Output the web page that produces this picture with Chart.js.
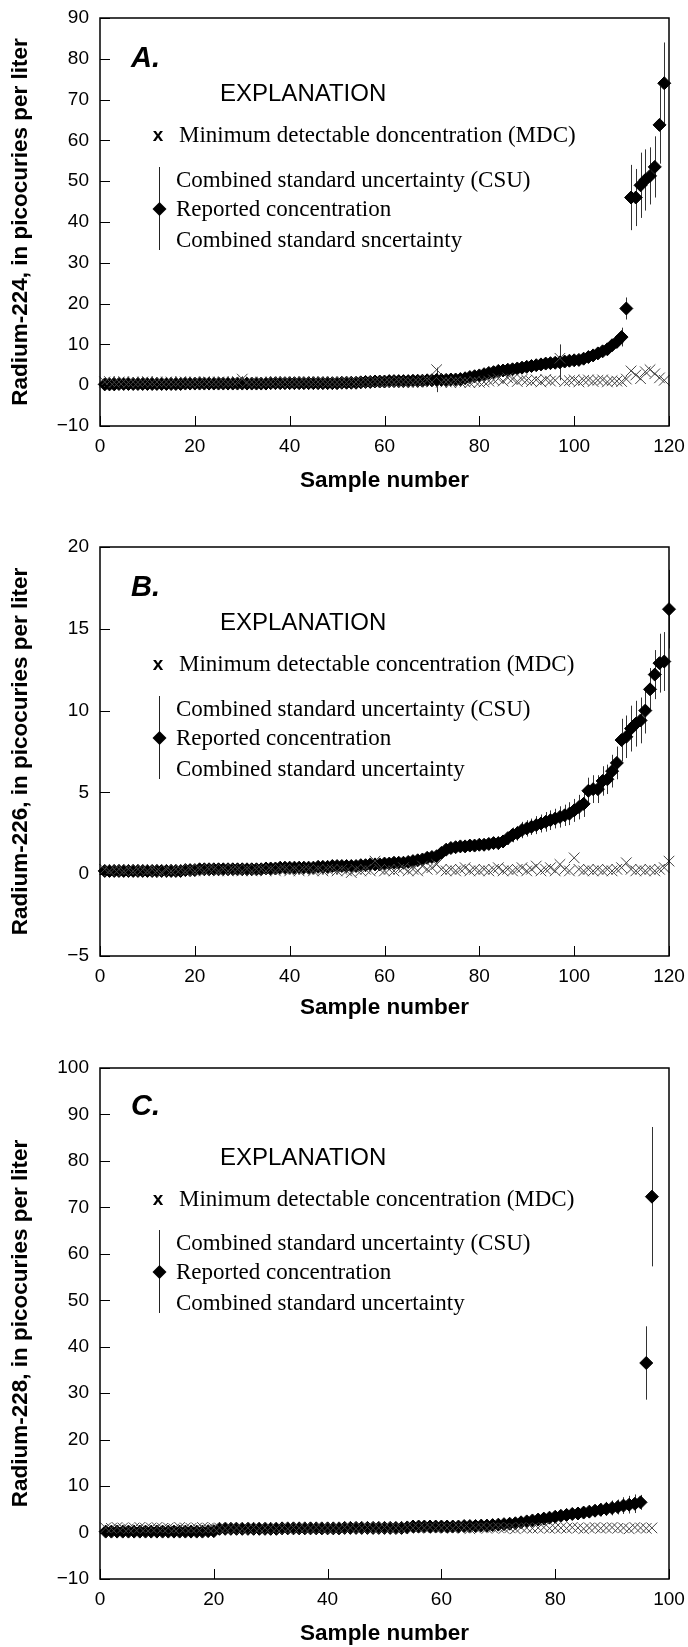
<!DOCTYPE html>
<html><head><meta charset="utf-8">
<script src="https://cdn.jsdelivr.net/npm/chart.js@4.4.0/dist/chart.umd.min.js"></script>
<style>
html,body{margin:0;padding:0;background:#fff;}
body{width:688px;height:1647px;position:relative;overflow:hidden;}
canvas{position:absolute;left:0;display:block;}
</style></head><body>
<canvas id="cA" width="688" height="500" style="top:0px"></canvas>
<canvas id="cB" width="688" height="510" style="top:520px"></canvas>
<canvas id="cC" width="688" height="607" style="top:1040px"></canvas>
<script>
// ---------- Chart A: Radium-224 ----------
const countA = 119;
const reportedA = [
0.2,0.2,0.2,0.3,0.3,0.3,0.3,0.3,0.3,0.3,0.3,0.3,0.3,0.3,0.3,0.3,0.3,0.4,0.4,0.4,
0.4,0.4,0.4,0.4,0.4,0.4,0.4,0.4,0.4,0.4,0.4,0.4,0.4,0.4,0.4,0.5,0.5,0.5,0.5,0.5,
0.5,0.5,0.5,0.5,0.5,0.5,0.5,0.5,0.5,0.5,0.6,0.6,0.6,0.6,0.7,0.8,0.8,0.9,0.9,0.9,
1.0,1.0,1.0,1.0,1.0,1.1,1.1,1.1,1.2,1.2,1.3,1.3,1.3,1.4,1.4,1.5,1.7,2.0,2.2,2.4,
2.7,3.0,3.2,3.5,3.6,3.8,3.9,4.1,4.3,4.5,4.7,4.9,5.1,5.3,5.4,5.5,5.6,5.8,6.0,6.1,
6.2,6.5,6.9,7.3,7.8,8.3,8.8,9.8,10.6,11.8,18.8,46.0,46.0,49.0,50.3,51.3,53.5,63.8,74.0];
const csuA = [
0.3,0.3,0.3,0.3,0.3,0.3,0.3,0.3,0.3,0.3,0.3,0.3,0.3,0.3,0.3,0.3,0.3,0.3,0.3,0.3,
0.3,0.3,0.3,0.3,0.3,0.3,0.3,0.3,0.3,0.9,0.3,0.3,0.3,0.3,0.3,0.3,0.3,0.3,0.3,0.3,
0.3,0.3,0.3,0.3,0.3,0.3,0.3,0.3,0.3,0.3,0.4,0.4,0.4,0.4,0.4,0.4,0.4,0.4,0.4,0.4,
0.4,0.4,0.4,0.4,0.4,0.4,0.4,0.4,0.5,0.5,3.0,0.5,0.5,0.5,0.5,0.5,0.5,0.6,0.6,0.6,
0.6,0.6,0.6,0.6,0.7,0.7,0.7,0.7,0.7,0.7,0.7,0.8,0.8,0.8,0.8,0.8,4.4,0.8,0.8,0.8,
0.9,0.9,0.9,1.0,1.0,1.1,1.1,1.2,1.4,2.3,2.7,8.0,7.0,8.0,7.5,7.0,7.5,9.5,10.0];
const mdcA = [
0.8,0.9,0.7,0.8,0.9,0.7,0.8,0.7,0.8,0.9,0.7,0.8,0.7,0.8,0.8,0.7,0.9,0.8,0.7,0.8,
0.7,0.9,0.8,0.7,0.8,0.9,0.7,0.8,0.9,1.5,0.7,0.8,0.7,0.8,0.7,0.8,0.9,0.7,0.8,0.7,
0.8,0.7,0.9,0.8,0.7,0.8,0.9,0.7,0.8,0.7,0.8,0.7,0.9,0.8,0.7,0.8,0.7,0.9,0.8,0.7,
0.8,0.7,0.9,0.8,0.7,0.6,0.8,0.9,1.2,0.8,3.8,0.7,0.8,0.6,0.9,0.7,0.8,0.6,1.0,0.7,
0.8,1.0,1.3,1.6,1.0,1.8,1.5,0.9,1.4,1.2,0.9,1.3,0.8,1.4,1.0,1.2,6.6,0.9,1.1,1.3,
0.8,1.2,1.3,0.9,1.2,1.3,0.8,1.1,1.0,0.9,1.5,3.5,2.5,1.6,3.3,3.8,2.8,1.8,1.2];
const yTicksA = [-10,0,10,20,30,40,50,60,70,80,90];
const xTicksA = [0,20,40,60,80,100,120];

// ---------- Chart B: Radium-226 ----------
const countB = 120;
const reportedB = [
0.2,0.2,0.2,0.2,0.2,0.2,0.2,0.2,0.2,0.2,0.2,0.2,0.2,0.2,0.2,0.2,0.2,0.25,0.25,0.25,
0.3,0.3,0.3,0.3,0.3,0.3,0.3,0.3,0.3,0.3,0.3,0.3,0.3,0.3,0.35,0.35,0.35,0.4,0.4,0.4,
0.4,0.4,0.4,0.4,0.4,0.45,0.45,0.45,0.5,0.5,0.5,0.5,0.5,0.5,0.55,0.55,0.6,0.6,0.6,0.65,
0.65,0.7,0.7,0.7,0.75,0.8,0.85,0.9,1.0,1.05,1.1,1.3,1.5,1.6,1.65,1.7,1.7,1.75,1.75,1.8,
1.8,1.85,1.9,1.9,2.0,2.2,2.4,2.5,2.7,2.8,2.9,3.0,3.1,3.2,3.3,3.4,3.5,3.6,3.7,3.9,
4.1,4.3,5.1,5.2,5.2,5.7,5.8,6.3,6.8,8.2,8.4,8.9,9.2,9.4,10.0,11.3,12.2,12.9,13.0,16.2];
const csuB = [
0.1,0.1,0.1,0.1,0.1,0.1,0.1,0.1,0.1,0.1,0.1,0.1,0.1,0.1,0.1,0.1,0.1,0.1,0.1,0.1,
0.1,0.1,0.1,0.1,0.1,0.1,0.1,0.1,0.1,0.1,0.1,0.1,0.1,0.1,0.1,0.1,0.1,0.1,0.1,0.1,
0.15,0.15,0.15,0.15,0.15,0.15,0.15,0.15,0.15,0.15,0.15,0.15,0.15,0.15,0.15,0.15,0.2,0.2,0.2,0.2,
0.2,0.2,0.2,0.2,0.2,0.2,0.25,0.25,0.3,0.3,0.3,0.3,0.3,0.3,0.3,0.3,0.3,0.3,0.3,0.3,
0.35,0.35,0.35,0.4,0.4,0.4,0.45,0.45,0.5,0.5,0.5,0.55,0.55,0.6,0.6,0.6,0.65,0.65,0.7,0.7,
0.75,0.8,0.8,0.85,0.85,0.9,0.9,1.0,1.0,1.3,1.3,1.4,1.4,1.4,1.4,1.3,1.5,1.8,1.8,2.4];
const mdcB = [
0.3,0.2,0.3,0.3,0.2,0.3,0.2,0.3,0.3,0.2,0.3,0.2,0.1,0.3,0.2,0.3,0.3,0.2,0.3,0.2,
0.3,0.2,0.3,0.3,0.2,0.3,0.2,0.3,0.3,0.2,0.3,0.2,0.3,0.3,0.2,0.3,0.2,0.3,0.3,0.2,
0.3,0.2,0.3,0.3,0.2,0.3,0.2,0.3,0.3,0.2,0.3,0.2,0.1,0.3,0.2,0.3,0.2,0.8,0.3,0.2,
0.3,0.2,0.3,0.4,0.2,0.3,0.2,0.5,0.3,0.4,0.6,0.3,0.2,0.3,0.2,0.3,0.4,0.2,0.3,0.2,
0.3,0.2,0.3,0.4,0.2,0.3,0.2,0.3,0.4,0.2,0.3,0.5,0.2,0.3,0.4,0.2,0.6,0.3,0.2,1.0,
0.3,0.2,0.3,0.2,0.3,0.2,0.3,0.2,0.3,0.4,0.7,0.3,0.2,0.3,0.2,0.3,0.2,0.3,0.4,0.8];
const yTicksB = [-5,0,5,10,15,20];
const xTicksB = [0,20,40,60,80,100,120];

// ---------- Chart C: Radium-228 ----------
const countC = 97;
const reportedC = [
0.2,0.2,0.2,0.2,0.2,0.2,0.2,0.2,0.2,0.2,0.2,0.2,0.2,0.2,0.2,0.2,0.2,0.2,0.3,0.3,
0.8,0.8,0.8,0.8,0.8,0.8,0.8,0.8,0.8,0.8,0.8,0.9,0.9,0.9,0.9,0.9,0.9,0.9,0.9,0.9,
0.9,0.9,1.0,1.0,1.0,1.0,1.0,1.0,1.0,1.0,1.0,1.0,1.0,1.1,1.3,1.3,1.3,1.3,1.3,1.3,
1.3,1.3,1.3,1.4,1.4,1.4,1.5,1.5,1.6,1.7,1.8,1.9,2.0,2.2,2.4,2.6,2.8,3.0,3.2,3.4,
3.6,3.8,4.0,4.1,4.3,4.5,4.7,4.9,5.1,5.3,5.5,5.8,6.0,6.2,6.5,36.5,72.3];
const csuC = [
0.3,0.3,0.3,0.3,0.3,0.3,0.3,0.3,0.3,0.3,0.3,0.3,0.3,0.3,0.3,0.3,0.3,0.3,0.3,0.3,
0.4,0.4,0.4,0.4,0.4,0.4,0.4,0.4,0.4,0.4,0.4,0.4,0.4,0.4,0.4,0.4,0.4,0.4,0.4,0.4,
0.4,0.4,0.5,0.5,0.5,0.5,0.5,0.5,0.5,0.5,0.5,0.5,0.5,0.5,0.6,0.6,0.6,0.6,0.6,0.6,
0.6,0.6,0.6,0.6,0.6,0.6,0.7,0.7,0.7,0.7,0.7,0.8,0.8,0.8,0.8,0.9,0.9,0.9,1.0,1.0,
1.0,1.1,1.1,1.2,1.2,1.3,1.3,1.4,1.5,1.6,1.6,1.8,1.9,2.0,1.6,7.9,15.0];
const mdcC = [
1.0,0.9,1.1,1.0,0.8,1.0,1.1,0.9,1.0,1.1,0.9,1.0,0.8,1.1,1.0,0.9,1.0,1.1,0.9,1.0,
1.0,0.9,1.1,1.0,0.8,1.0,1.1,0.9,1.0,1.1,0.9,1.0,0.8,1.1,1.0,0.9,1.0,1.1,0.9,1.0,
1.0,0.9,1.1,1.0,0.8,1.0,1.1,0.9,1.0,1.1,0.9,1.0,0.8,1.1,1.0,0.9,1.0,1.1,0.9,1.0,
1.0,0.9,1.1,1.0,0.8,1.0,1.1,0.9,1.0,1.1,0.9,1.0,0.8,1.1,1.0,0.9,1.0,1.1,0.9,1.0,
1.0,0.9,1.1,1.0,0.8,1.0,1.1,0.9,1.0,1.1,0.9,1.0,0.8,1.1,1.0,0.9,1.0];
const yTicksC = [-10,0,10,20,30,40,50,60,70,80,90,100];
const xTicksC = [0,20,40,60,80,100];

const SANS = '"Liberation Sans", Arial, Helvetica, sans-serif';
const SERIF = '"Liberation Serif", "Times New Roman", serif';

function makeChart(id, cfg) {
  const n = cfg.count;
  const samples = Array.from({length: n}, (_, i) => i + 1);
  const reportedPts = samples.map((s, i) => ({x: s, y: cfg.reported[i]}));
  const mdcPts = samples.map((s, i) => ({x: s, y: cfg.mdc[i]}));
  const yT = cfg.yTicks, xT = cfg.xTicks;

  const errorBars = {
    id: 'errorBars',
    beforeDatasetsDraw(chart) {
      const {ctx, chartArea: a, scales: {x, y}} = chart;
      ctx.save();
      ctx.beginPath(); ctx.rect(a.left - 2, a.top, a.right - a.left + 4, a.bottom - a.top); ctx.clip();
      ctx.strokeStyle = '#333'; ctx.lineWidth = 1;
      samples.forEach((s, i) => {
        const px = Math.round(x.getPixelForValue(s)) + 0.5;
        ctx.beginPath();
        ctx.moveTo(px, y.getPixelForValue(cfg.reported[i] - cfg.csu[i]));
        ctx.lineTo(px, y.getPixelForValue(cfg.reported[i] + cfg.csu[i]));
        ctx.stroke();
      });
      ctx.restore();
    }
  };

  const frame = {
    id: 'frame',
    afterDraw(chart) {
      const {ctx, chartArea: a, scales: {x, y}} = chart;
      ctx.save();
      ctx.strokeStyle = '#000'; ctx.lineWidth = 1.5;
      ctx.strokeRect(a.left, a.top, a.right - a.left, a.bottom - a.top);
      ctx.lineWidth = 1;
      x.ticks.forEach(t => {
        const px = Math.round(x.getPixelForValue(t.value)) + 0.5;
        ctx.beginPath(); ctx.moveTo(px, a.bottom); ctx.lineTo(px, a.bottom - 10); ctx.stroke();
      });
      y.ticks.forEach(t => {
        const py = Math.round(y.getPixelForValue(t.value)) + 0.5;
        ctx.beginPath(); ctx.moveTo(a.left, py); ctx.lineTo(a.left + 10, py); ctx.stroke();
      });
      // Explanation
      const T = a.top, L = cfg.leg;
      ctx.fillStyle = '#000';
      ctx.textBaseline = 'middle';
      ctx.textAlign = 'left';
      ctx.font = 'italic bold 29px ' + SANS;
      ctx.fillText(cfg.letter, 131, T + L.letter);
      ctx.font = '24px ' + SANS;
      ctx.fillText('EXPLANATION', 220, T + L.expl);
      ctx.font = 'bold 19px ' + SANS;
      ctx.textAlign = 'center';
      ctx.fillText('x', 158, T + L.mdc);
      ctx.textAlign = 'left';
      ctx.font = '23px ' + SERIF;
      ctx.fillText(cfg.mdcText, 179, T + L.mdc);
      ctx.fillText('Combined standard uncertainty (CSU)', 176, T + L.csu1);
      ctx.fillText('Reported concentration', 176, T + L.rep);
      ctx.fillText(cfg.csu2Text, 176, T + L.csu2);
      ctx.strokeStyle = '#222'; ctx.lineWidth = 1;
      ctx.beginPath(); ctx.moveTo(159.5, T + L.lineTop); ctx.lineTo(159.5, T + L.lineBot); ctx.stroke();
      ctx.beginPath();
      const dy = T + L.rep - 1, r = 7;
      ctx.moveTo(159.5, dy - r); ctx.lineTo(159.5 + r, dy); ctx.lineTo(159.5, dy + r); ctx.lineTo(159.5 - r, dy); ctx.closePath();
      ctx.fill();
      ctx.restore();
    }
  };

  return new Chart(document.getElementById(id), {
    type: 'scatter',
    data: {
      datasets: [
        {label: 'MDC', data: mdcPts, pointStyle: 'crossRot', radius: 7.5, borderColor: '#444', backgroundColor: '#444', borderWidth: 1, clip: false},
        {label: 'Reported concentration', data: reportedPts, pointStyle: 'rectRot', radius: 6.5, borderColor: '#000', backgroundColor: '#000', borderWidth: 1, clip: false}
      ]
    },
    options: {
      responsive: false, animation: false,
      layout: {padding: {left: 0, right: 19, top: cfg.padTop, bottom: 0}},
      plugins: {legend: {display: false}, tooltip: {enabled: false}},
      scales: {
        x: {
          type: 'linear', min: xT[0], max: xT[xT.length - 1],
          afterBuildTicks: s => { s.ticks = xT.map(v => ({value: v})); },
          afterFit: s => { s.height = cfg.xH; s.paddingLeft = 0; s.paddingRight = 0; },
          grid: {display: false, drawTicks: false}, border: {display: false},
          ticks: {color: '#000', font: {family: SANS, size: 19}, padding: 9, maxRotation: 0,
                  callback: v => String(v).replace('-', '\u2212')},
          title: {display: true, text: 'Sample number', color: '#000',
                  font: {family: SANS, size: 22.5, weight: 'bold'}, padding: {top: 0, bottom: cfg.xTitlePad}}
        },
        y: {
          type: 'linear', min: yT[0], max: yT[yT.length - 1],
          afterBuildTicks: s => { s.ticks = yT.map(v => ({value: v})); },
          afterFit: s => { s.width = 100; s.paddingTop = 0; s.paddingBottom = 0; },
          grid: {display: false, drawTicks: false}, border: {display: false},
          ticks: {color: '#000', font: {family: SANS, size: 19}, padding: 11,
                  callback: v => String(v).replace('-', '\u2212')},
          title: {display: true, text: cfg.yTitle, color: '#000',
                  font: {family: SANS, size: 22.5, weight: 'bold'}, padding: {top: 7, bottom: 0}}
        }
      }
    },
    plugins: [errorBars, frame]
  });
}

const legStd = {letter: 41, expl: 76, mdc: 118, csu1: 163, rep: 192, csu2: 223, lineTop: 149, lineBot: 232};
const legC = {letter: 39, expl: 90, mdc: 132, csu1: 176, rep: 205, csu2: 236, lineTop: 162, lineBot: 245};

makeChart('cA', {count: countA, reported: reportedA, csu: csuA, mdc: mdcA, yTicks: yTicksA, xTicks: xTicksA,
  padTop: 18, xH: 74, xTitlePad: 6, yTitle: 'Radium-224, in picocuries per liter', letter: 'A.',
  mdcText: 'Minimum detectable doncentration (MDC)', csu2Text: 'Combined standard sncertainty', leg: legStd});
makeChart('cB', {count: countB, reported: reportedB, csu: csuB, mdc: mdcB, yTicks: yTicksB, xTicks: xTicksB,
  padTop: 27, xH: 74, xTitlePad: 9, yTitle: 'Radium-226, in picocuries per liter', letter: 'B.',
  mdcText: 'Minimum detectable concentration (MDC)', csu2Text: 'Combined standard uncertainty', leg: legStd});
makeChart('cC', {count: countC, reported: reportedC, csu: csuC, mdc: mdcC, yTicks: yTicksC, xTicks: xTicksC,
  padTop: 28, xH: 68, xTitlePad: 0, yTitle: 'Radium-228, in picocuries per liter', letter: 'C.',
  mdcText: 'Minimum detectable concentration (MDC)', csu2Text: 'Combined standard uncertainty', leg: legC});
</script>
</body></html>
